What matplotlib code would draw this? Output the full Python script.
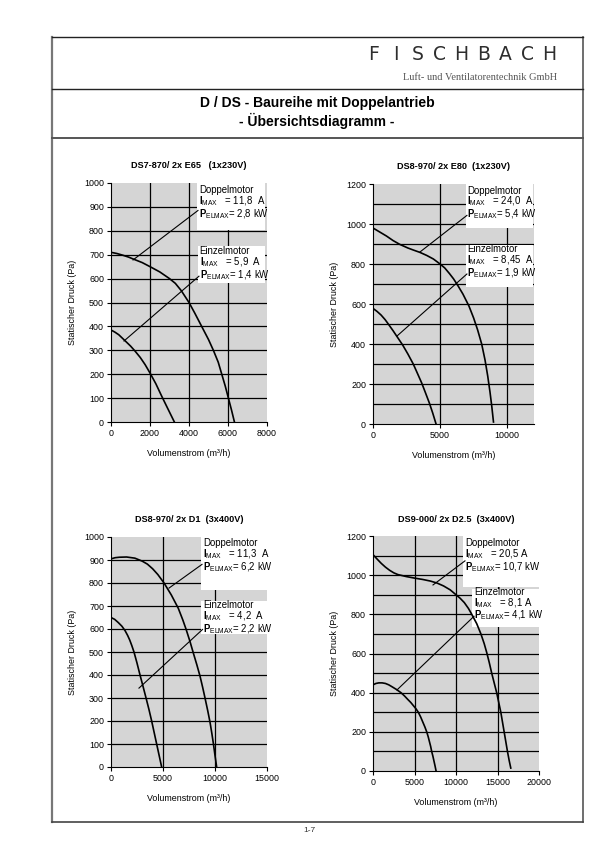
import matplotlib
matplotlib.use('Agg')
import matplotlib.pyplot as plt
from matplotlib.patches import Rectangle
from matplotlib.lines import Line2D

plt.rcParams['font.family'] = ['Liberation Sans', 'DejaVu Sans']
plt.rcParams['mathtext.fontset'] = 'custom'
plt.rcParams['mathtext.rm'] = 'Liberation Sans'
plt.rcParams['mathtext.bf'] = 'Liberation Sans:bold'
plt.rcParams['mathtext.it'] = 'Liberation Sans:italic'

# ---------------- data ----------------
titles = ['DS7-870/ 2x E65   (1x230V)', 'DS8-970/ 2x E80  (1x230V)',
          'DS8-970/ 2x D1  (3x400V)', 'DS9-000/ 2x D2.5  (3x400V)']
x_max = [8000, 12000, 15000, 20000]
x_ticks = [[0, 2000, 4000, 6000, 8000], [0, 5000, 10000],
           [0, 5000, 10000, 15000], [0, 5000, 10000, 15000, 20000]]
y_max = [1000, 1200, 1000, 1200]
y_ticks = [list(range(0, 1001, 100)), list(range(0, 1201, 200)),
           list(range(0, 1001, 100)), list(range(0, 1201, 200))]
y_grid_step = 100

# Chart 1: DS7-870 / 2x E65
c1_doppel_q = [0, 300, 600, 900, 1200, 1600, 2000, 2500, 3000, 3300, 3600, 4000, 4300, 4650,
               5000, 5250, 5500, 5680, 5860, 6020, 6180, 6330]
c1_doppel_p = [710, 705, 698, 690, 680, 667, 650, 628, 600, 580, 550, 500, 455, 400,
               345, 300, 250, 200, 150, 100, 50, 0]
c1_einzel_q = [0, 200, 400, 720, 1000, 1230, 1500, 1750, 2000, 2300, 2600, 2900, 3250]
c1_einzel_p = [385, 376, 365, 340, 318, 297, 270, 240, 205, 160, 108, 58, 0]
# Chart 2: DS8-970 / 2x E80
c2_doppel_q = [0, 500, 1000, 1500, 2000, 2600, 3000, 3500, 4000, 4500, 5000, 5350, 5700, 6000,
               6300, 6700, 7150, 7500, 7800, 8100, 8350, 8550, 8720, 8850, 8980]
c2_doppel_p = [980, 960, 940, 917, 898, 880, 870, 858, 843, 825, 800, 780, 752, 726,
               695, 650, 590, 530, 470, 400, 320, 240, 160, 90, 10]
c2_einzel_q = [0, 300, 600, 900, 1140, 1500, 1760, 2210, 2600, 3000, 3300, 3630, 3900, 4200, 4450, 4700]
c2_einzel_p = [578, 563, 545, 522, 500, 466, 440, 395, 350, 300, 255, 205, 158, 105, 55, 0]
# Chart 3: DS8-970 / 2x D1
c3_doppel_q = [0, 400, 800, 1500, 2300, 3000, 3500, 4000, 4500, 5100, 5800, 6470, 6900, 7210,
               7600, 7920, 8250, 8560, 8820, 9040, 9300, 9520, 9700, 9850, 10000, 10160]
c3_doppel_p = [905, 910, 912, 913, 908, 895, 882, 862, 837, 800, 748, 690, 640, 600,
               545, 495, 445, 395, 345, 300, 245, 195, 145, 100, 50, 0]
c3_einzel_q = [0, 350, 700, 1050, 1350, 1600, 1800, 2000, 2210, 2500, 2790, 3100, 3370, 3650,
               3910, 4150, 4390, 4630, 4870]
c3_einzel_p = [650, 642, 628, 612, 593, 572, 552, 528, 500, 452, 400, 347, 300, 250,
               200, 150, 100, 50, 0]
# Chart 4: DS9-000 / 2x D2.5
c4_doppel_q = [0, 500, 1000, 1500, 2000, 2500, 3000, 4000, 5000, 6000, 6900, 7700, 8500, 9300,
               10000, 10500, 11000, 11500, 11900, 12500, 13000, 13400, 13700, 14000, 14300, 14600,
               14900, 15150, 15400, 15600, 15800, 16000, 16200, 16400, 16600]
c4_doppel_p = [1105, 1082, 1060, 1041, 1025, 1012, 1003, 993, 985, 978, 970, 960, 945, 925,
               900, 882, 860, 830, 800, 752, 700, 650, 605, 555, 500, 450,
               400, 350, 300, 250, 200, 150, 100, 55, 15]
c4_einzel_q = [0, 350, 700, 1100, 1500, 1900, 2300, 2800, 3370, 3800, 4200, 4550, 4860, 5170,
               5460, 5750, 6000, 6250, 6470, 6650, 6800, 6950, 7070, 7220, 7350, 7480, 7600]
c4_einzel_p = [440, 447, 450, 450, 447, 440, 430, 417, 400, 383, 365, 350, 334, 318,
               300, 275, 250, 225, 200, 175, 150, 125, 100, 75, 50, 25, 0]

doppel_q = [c1_doppel_q, c2_doppel_q, c3_doppel_q, c4_doppel_q]
doppel_p = [c1_doppel_p, c2_doppel_p, c3_doppel_p, c4_doppel_p]
einzel_q = [c1_einzel_q, c2_einzel_q, c3_einzel_q, c4_einzel_q]
einzel_p = [c1_einzel_p, c2_einzel_p, c3_einzel_p, c4_einzel_p]

imax_doppel = ['11,8', '24,0', '11,3', '20,5']
pel_doppel = ['2,8', '5,4', '6,2', '10,7']
imax_einzel = ['5,9', '8,45', '4,2', '8,1']
pel_einzel = ['1,4', '1,9', '2,2', '4,1']

x_label = 'Volumenstrom (m³/h)'
y_label = 'Statischer Druck (Pa)'

# ---------------- layout ----------------
W, H = 613, 859
fig = plt.figure(figsize=(W / 100, H / 100), dpi=100)

def fx(px):
    return px / W

def fy(py):
    return 1 - py / H

# axes pixel boxes (left, top, right, bottom)
ax_px = [(111, 183, 267, 422), (373, 184, 534, 424), (111, 537, 267, 767), (373, 536, 539, 771)]
title_pad = [11, 11, 11, 10]

# annotation layouts (data coords)
boxes_d = [(4420, 805, 7900, 1000), (6950, 980, 11950, 1200), (8650, 770, 15100, 1000), (10900, 940, 19950, 1200)]
boxes_e = [(4460, 580, 7900, 738), (6950, 685, 11950, 897), (8650, 580, 15100, 720), (11950, 735, 19950, 930)]
text_c = [(4520, 916), (7040, 1103), (8870, 917), (11100, 1097)]
text_e = [(4540, 660), (7040, 811), (8870, 649), (12150, 850)]
lead_d = [((1130, 678), (4460, 885)), ((3500, 860), (7000, 1043)),
          ((5580, 778), (8750, 881)), ((7230, 950), (11080, 1073))]
lead_e = [((667, 339), (4510, 610)), ((1790, 440), (7000, 750)),
          ((2690, 343), (8800, 598)), ((2890, 414), (12170, 790))]
amp_sep = ['  ', '  ', '  ', ' ']

bg = '#d5d5d5'
fs_tick = 6.4
fs_box = 6.9

for i in range(4):
    l, t, r, b = ax_px[i]
    ax = fig.add_axes([fx(l), fy(b), fx(r) - fx(l), fy(t) - fy(b)])
    ax.set_facecolor(bg)
    ax.set_xlim(0, x_max[i])
    ax.set_ylim(0, y_max[i])
    for s in ['top', 'right']:
        ax.spines[s].set_visible(False)
    for s in ['left', 'bottom']:
        ax.spines[s].set_linewidth(0.8)
        ax.spines[s].set_color('black')
    ax.set_xticks(x_ticks[i])
    ax.set_yticks(y_ticks[i])
    ax.set_xticklabels([str(v) for v in x_ticks[i]])
    ax.set_yticklabels([str(v) for v in y_ticks[i]])
    ax.tick_params(direction='out', length=3, width=0.8, labelsize=fs_tick, pad=2)
    # grid
    for v in x_ticks[i]:
        if 0 < v < x_max[i]:
            ax.axvline(v, color='black', lw=0.9, zorder=1)
    for v in range(y_grid_step, y_max[i], y_grid_step):
        ax.axhline(v, color='black', lw=0.9, zorder=1)
    # white boxes
    for bx in (boxes_d[i], boxes_e[i]):
        ax.add_patch(Rectangle((bx[0], bx[1]), bx[2] - bx[0], bx[3] - bx[1],
                               facecolor='white', edgecolor='none', zorder=1.5))
    # curves
    ax.plot(doppel_q[i], doppel_p[i], color='black', lw=1.2, zorder=3,
            solid_joinstyle='round')
    ax.plot(einzel_q[i], einzel_p[i], color='black', lw=1.2, zorder=3,
            solid_joinstyle='round')
    # leader lines
    for (a, c) in (lead_d[i], lead_e[i]):
        ax.plot([a[0], c[0]], [a[1], c[1]], color='black', lw=0.8, zorder=3)
    # texts (one multi-line block per motor)
    for (tx, ty), name, im, pe in ((text_c[i], 'Doppelmotor', imax_doppel[i], pel_doppel[i]),
                                   (text_e[i], 'Einzelmotor', imax_einzel[i], pel_einzel[i])):
        block = (name + '\n'
                 + r'$\mathbf{I}_{\mathrm{MAX}}$' + '   = ' + im + amp_sep[i] + 'A' + '\n'
                 + r'$\mathbf{P}_{\mathrm{ELMAX}}$' + '= ' + pe + ' kW')
        ax.text(tx, ty, block, fontsize=fs_box, va='center', ha='left', zorder=4,
                linespacing=0.92)
    ax.set_title(titles[i], fontsize=6.6, fontweight='bold', pad=title_pad[i])
    ax.set_xlabel(x_label, fontsize=6.4, labelpad=8)
    ax.set_ylabel(y_label, fontsize=6.4, labelpad=5)

# ---------------- page frame ----------------
bx0, bx1, by0, by1 = fx(52), fx(583), fy(822), fy(37)
fig.add_artist(Line2D([bx0, bx0], [by0, by1], color='#777777', lw=1.6))
fig.add_artist(Line2D([bx1, bx1], [by0, by1], color='#555555', lw=1.2))
fig.add_artist(Line2D([bx0, bx1], [by1, by1], color='#222222', lw=1.0))
fig.add_artist(Line2D([bx0, bx1], [by0, by0], color='#444444', lw=1.2))
fig.add_artist(Line2D([bx0, bx1], [fy(89), fy(89)], color='#222222', lw=1.0))
fig.add_artist(Line2D([bx0, bx1], [fy(138), fy(138)], color='#555555', lw=1.4))

# logo
logo = 'FISCHBACH'
lx0, lx1 = 374, 549
for k, ch in enumerate(logo):
    xp = lx0 + k * (lx1 - lx0) / (len(logo) - 1)
    fig.text(fx(xp), fy(55), ch, fontsize=13.5, color='#2e2e2e', ha='center', va='center',
             family='DejaVu Sans')
fig.text(fx(557), fy(77), 'Luft- und Ventilatorentechnik GmbH', fontsize=7.5, color='#555555',
         ha='right', va='center', family='Liberation Serif')

fig.text(fx(317), fy(103), 'D / DS - Baureihe mit Doppelantrieb', fontsize=10, fontweight='bold',
         ha='center', va='center')
fig.text(fx(317), fy(121), '- Übersichtsdiagramm -', fontsize=10, fontweight='bold',
         ha='center', va='center')
fig.text(fx(309), fy(831), '1-7', fontsize=6, ha='center', va='center', color='#333333')

fig.savefig('out.png', dpi=100, facecolor='white')
